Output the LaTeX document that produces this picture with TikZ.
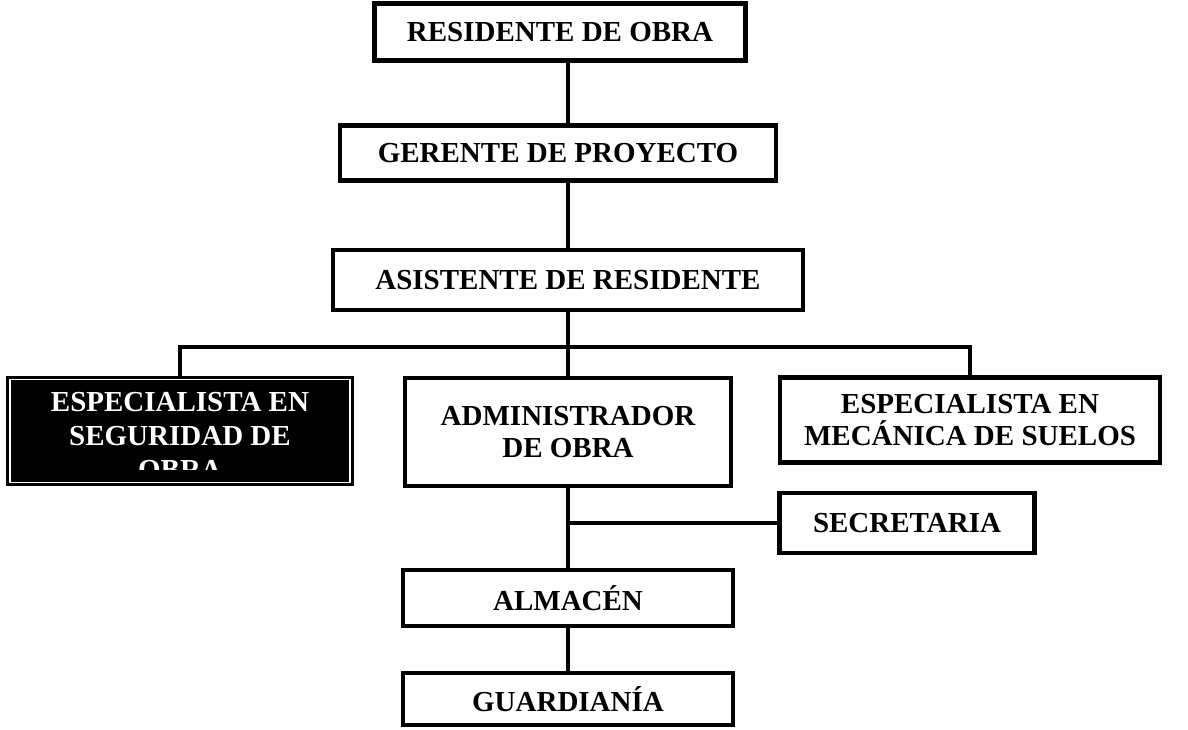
\documentclass[tikz,border=0pt]{standalone}
\usepackage{fontspec}
\setmainfont{Liberation Serif}

\begin{document}
\begin{tikzpicture}[x=1pt, y=-1pt,
  cargo/.style = {draw, line width=4.5pt, fill=white, inner sep=0pt, align=center,
                  font=\bfseries\fontsize{29}{32}\selectfont},
  link/.style  = {line width=3.2pt},
  ]

  \useasboundingbox (0,0) rectangle (1188,729);

  \node[cargo, minimum width=371pt, minimum height=57pt] (res) at (560,32) {RESIDENTE DE OBRA};
  \node[cargo, minimum width=436pt, minimum height=55pt] (ger) at (558,153) {GERENTE DE PROYECTO};
  \node[cargo, minimum width=470pt, minimum height=60pt] (asi) at (568,280) {ASISTENTE DE RESIDENTE};

  \node[cargo, fill=black, line width=3pt, double=white, double distance=1.5pt,
        minimum width=340pt, minimum height=103pt] (esp1) at (180,431) {}; % seguridad
  \node[cargo, minimum width=326pt, minimum height=108pt] (adm) at (568,432) {ADMINISTRADOR\\DE OBRA};
  \node[cargo, minimum width=380pt, minimum height=85pt] (esp2) at (970,420) {ESPECIALISTA EN\\MEC\'ANICA DE SUELOS};

  \node[cargo, minimum width=255pt, minimum height=60pt] (sec) at (907,523) {SECRETARIA};
  \node[cargo, minimum width=330pt, minimum height=56pt] (alm) at (568,598) {ALMAC\'EN};
  \node[cargo, minimum width=330pt, minimum height=52pt] (gua) at (568,699) {GUARDIAN\'IA};

  % text of the black box, cut at the bottom
  \coordinate (cut) at (0,469);
  \begin{scope}
    \clip (esp1.north west) rectangle (esp1.east |- cut);
    \node[anchor=north, inner sep=0pt, align=center, text=white,
          font=\bfseries\fontsize{29}{34}\selectfont]
      (esp1t) at (180,392) {ESPECIALISTA EN\\SEGURIDAD DE\\OBRA};
  \end{scope}

  \coordinate (bar) at (568,347);

  \draw[link] (res.south -| asi.north) -- (ger.north -| asi.north);
  \draw[link] (ger.south -| asi.north) -- (asi.north);
  \draw[link] (asi) -- (adm);
  \draw[link] (esp1.north) |- (bar) -| (esp2.north); % branch
  \draw[link] (adm) -- (alm);
  \draw[link] (adm.south |- sec.west) -- (sec.west);
  \draw[link] (alm) -- (gua);

\end{tikzpicture}
\end{document}
